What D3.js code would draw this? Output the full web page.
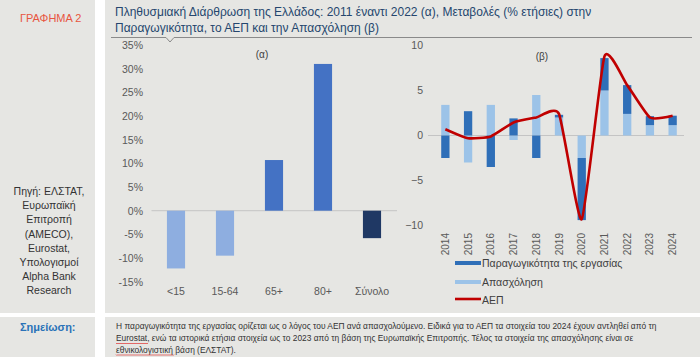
<!DOCTYPE html>
<html><head><meta charset="utf-8">
<script src="https://cdn.jsdelivr.net/npm/d3@7"></script>
<style>
html,body{margin:0;padding:0;background:#fff;}
svg{display:block;font-family:"Liberation Sans",Arial,sans-serif;}
</style></head>
<body>
<svg id="c" width="700" height="357"></svg>
<script>
// ---- data ----
const ageGroups = ["<15", "15-64", "65+", "80+", "Σύνολο"];
const popChange = [-12.2, -9.5, 10.7, 31.0, -5.8];
const popTicks = [-15, -10, -5, 0, 5, 10, 15, 20, 25, 30, 35];

const years = ["2014","2015","2016","2017","2018","2019","2020","2021","2022","2023","2024"];
const productivity = [-2.5, 2.7, -3.5, 1.9, -2.5, 0.3, -6.9, 3.6, 3.2, 1.0, 1.05];
const employment   = [3.4, -3.0, 3.4, -0.5, 4.5, 2.0, -2.5, 5.0, 2.4, 1.15, 1.15];
const gdp          = [0.7, -0.3, -0.1, 1.45, 2.0, 2.4, -9.3, 8.8, 5.6, 2.0, 2.2];
const rightTicks = [-10, -5, 0, 5, 10];

const seriesNames = ["Παραγωγικότητα της εργασίας", "Απασχόληση", "ΑΕΠ"];
const titleLines = ["Πληθυσμιακή Διάρθρωση της Ελλάδος: 2011 έναντι 2022 (α), Μεταβολές (% ετήσιες) στην",
                    "Παραγωγικότητα, το ΑΕΠ και την Απασχόληση (β)"];
const sourceLines = ["Πηγή: ΕΛΣΤΑΤ,", "Ευρωπαϊκή", "Επιτροπή", "(AMECO),", "Eurostat,", "Υπολογισμοί", "Alpha Bank", "Research"];
const noteLines = ["Η παραγωγικότητα της εργασίας ορίζεται ως ο λόγος του ΑΕΠ ανά απασχολούμενο. Ειδικά για το ΑΕΠ τα στοιχεία του 2024 έχουν αντληθεί από τη",
                   "Eurostat, ενώ τα ιστορικά ετήσια στοιχεία ως το 2023 από τη βάση της Ευρωπαϊκής Επιτροπής. Τέλος τα στοιχεία της απασχόλησης είναι σε",
                   "εθνικολογιστική βάση (ΕΛΣΤΑΤ)."];

const svg = d3.select("#c");
const BG = "#e6e6e3";
const axisCol = "#595959";

// panels
svg.append("rect").attr("x",0).attr("y",0).attr("width",95).attr("height",313).attr("fill",BG);
svg.append("rect").attr("x",105).attr("y",0).attr("width",595).attr("height",313).attr("fill",BG);
svg.append("rect").attr("x",0).attr("y",317).attr("width",95).attr("height",40).attr("fill",BG);
svg.append("rect").attr("x",105).attr("y",317).attr("width",595).attr("height",40).attr("fill",BG);

// header
svg.append("text").attr("x",20).attr("y",22).attr("fill","#e8553f").attr("font-size",11).text("ΓΡΑΦΗΜΑ 2");
svg.append("g").selectAll("text").data(titleLines).join("text")
  .attr("x",115).attr("y",(d,i)=>16+i*16).attr("fill","#25466e").attr("font-size",12).text(d=>d);
svg.append("path").attr("d","M111,37.5 L166,37.5 L170,42 L174,37.5 L692,37.5")
  .attr("fill","none").attr("stroke","#8a8a8a").attr("stroke-width",1);

// source text
svg.append("g").selectAll("text").data(sourceLines).join("text")
  .attr("x",49).attr("y",(d,i)=>195+i*14.2).attr("text-anchor","middle")
  .attr("fill","#333").attr("font-size",10.5).text(d=>d);

// ---- left chart ----
const yL = d3.scaleLinear().domain([-15,35]).range([281.7,45]);
const xL = d3.scaleBand().domain(ageGroups).range([151.5,396.5]).padding(0);
const leftColors = ["#8eaee0","#8eaee0","#4472c4","#4472c4","#1f3864"];
const gL = svg.append("g");
gL.append("line").attr("x1",151.5).attr("x2",397).attr("y1",yL(0)).attr("y2",yL(0)).attr("stroke","#c4c4c4");
const bwL = xL.bandwidth()*0.37;
gL.selectAll("rect.b").data(popChange).join("rect").attr("class","b")
  .attr("x",(d,i)=>xL(ageGroups[i])+xL.bandwidth()/2-bwL/2)
  .attr("width",bwL)
  .attr("y",d=>yL(Math.max(0,d)))
  .attr("height",d=>Math.abs(yL(d)-yL(0)))
  .attr("fill",(d,i)=>leftColors[i]);
const axL = d3.axisLeft(yL).tickValues(popTicks).tickFormat(d=>d+"%").tickSize(0).tickPadding(0);
const gAxL = gL.append("g").attr("transform","translate(143,0)").call(axL);
gAxL.select(".domain").remove();
gAxL.selectAll("text").attr("fill",axisCol).attr("font-size",10.5).attr("font-family","Liberation Sans, Arial");
const axLb = d3.axisBottom(xL).tickSize(0).tickPadding(0);
const gAxLb = gL.append("g").attr("transform","translate(0,288)").call(axLb);
gAxLb.select(".domain").remove();
gAxLb.selectAll("text").attr("fill",axisCol).attr("font-size",10.5).attr("font-family","Liberation Sans, Arial");
gL.append("text").attr("x",262).attr("y",58).attr("text-anchor","middle").attr("fill","#404040").attr("font-size",10).text("(α)");

// ---- right chart ----
const yR = d3.scaleLinear().domain([-10,10]).range([225.5,45.5]);
const xR = d3.scaleBand().domain(years).range([434,684]).padding(0);
const darkBlue = "#2f6fb8", lightBlue = "#9cc3e8", red = "#c00000";
const gR = svg.append("g");
gR.append("line").attr("x1",428).attr("x2",684).attr("y1",yR(0)).attr("y2",yR(0)).attr("stroke","#c4c4c4");
const tbl = years.map((y,i)=>({year:y, emp:employment[i], prod:productivity[i]}));
const stack = d3.stack().keys(["emp","prod"]).offset(d3.stackOffsetDiverging);
const stacked = stack(tbl);
const bwR = xR.bandwidth()*0.365;
gR.selectAll("g.s").data(stacked).join("g").attr("class","s")
  .attr("fill",d=>d.key==="emp"?lightBlue:darkBlue)
  .selectAll("rect").data(d=>d).join("rect")
  .attr("x",d=>xR(d.data.year)+xR.bandwidth()/2-bwR/2)
  .attr("width",bwR)
  .attr("y",d=>yR(Math.max(d[0],d[1])))
  .attr("height",d=>Math.abs(yR(d[0])-yR(d[1])));
const line = d3.line().x((d,i)=>xR(years[i])+xR.bandwidth()/2).y(d=>yR(d)).curve(d3.curveCardinal.tension(0.5));
gR.append("path").datum(gdp).attr("d",line).attr("fill","none").attr("stroke",red).attr("stroke-width",2.6).attr("stroke-linejoin","round");
const axR = d3.axisLeft(yR).tickValues(rightTicks).tickSize(0).tickPadding(0);
const gAxR = gR.append("g").attr("transform","translate(423,0)").call(axR);
gAxR.select(".domain").remove();
gAxR.selectAll("text").attr("fill",axisCol).attr("font-size",10.5).attr("font-family","Liberation Sans, Arial");
gR.selectAll("text.yr").data(years).join("text").attr("class","yr")
  .attr("transform",d=>`translate(${xR(d)+xR.bandwidth()/2+3.5},233) rotate(-90)`)
  .attr("text-anchor","end").attr("fill",axisCol).attr("font-size",10).text(d=>d);
gR.append("text").attr("x",542).attr("y",60).attr("text-anchor","middle").attr("fill","#404040").attr("font-size",10).text("(β)");

// legend
const lg = gR.append("g").attr("transform","translate(455,263)");
lg.append("rect").attr("x",0).attr("y",-2).attr("width",26).attr("height",4).attr("fill",darkBlue);
lg.append("rect").attr("x",0).attr("y",17).attr("width",26).attr("height",4).attr("fill",lightBlue);
lg.append("line").attr("x1",0).attr("x2",26).attr("y1",36).attr("y2",36).attr("stroke",red).attr("stroke-width",2.6);
lg.selectAll("text").data(seriesNames).join("text")
  .attr("x",27).attr("y",(d,i)=>i*18.5+4).attr("fill","#404040").attr("font-size",10.5).text(d=>d);

// footer
svg.append("text").attr("x",20).attr("y",331).attr("fill","#2a72b8").attr("font-size",11).attr("font-weight","bold").text("Σημείωση:");
const noteY = [329, 341, 352.5];
const notes = svg.append("g").selectAll("text").data(noteLines).join("text")
  .attr("x",116).attr("y",(d,i)=>noteY[i]).attr("fill","#333").attr("font-size",8.4).text(d=>d);
// spell-check squiggles
[[1,8],[2,15]].forEach(([li,n])=>{
  const node = notes.nodes()[li];
  const w = node.getSubStringLength(0,n);
  const y0 = noteY[li]+2;
  let p = `M116,${y0}`;
  for(let x=116;x<116+w;x+=2){ p += ` L${x+1},${y0+1} L${x+2},${y0}`; }
  svg.append("path").attr("d",p).attr("fill","none").attr("stroke","#e03030").attr("stroke-width",0.7);
});
</script>
</body></html>
